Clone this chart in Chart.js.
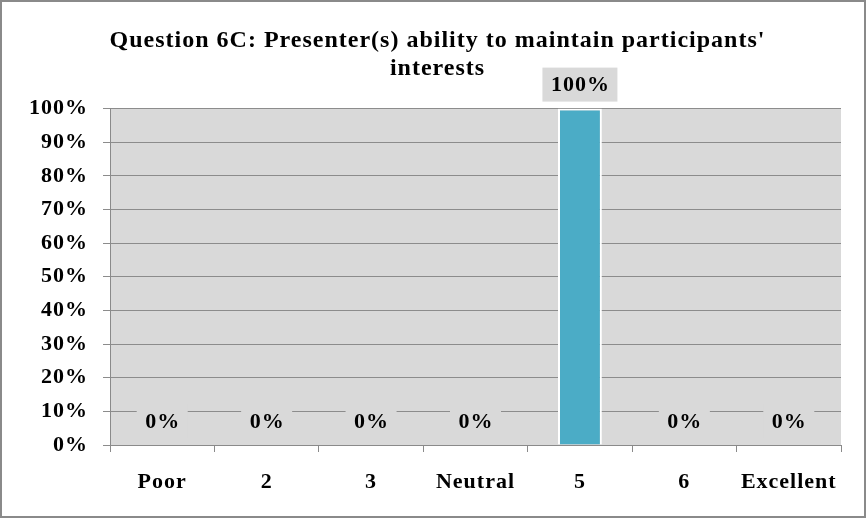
<!DOCTYPE html>
<html>
<head>
<meta charset="utf-8">
<script src="https://cdn.jsdelivr.net/npm/chart.js@4/dist/chart.umd.min.js"></script>
<style>
  html, body { margin: 0; padding: 0; background: #fff; }
  #wrap { position: relative; width: 866px; height: 518px; box-sizing: border-box; border: 2px solid #8a8a8a; }
  canvas { display: block; }
</style>
</head>
<body>
<div id="wrap"><canvas id="rating-chart" width="862" height="514"></canvas></div>
<script>
// Question 6C ratings
const ratingLabels = ["Poor", "2", "3", "Neutral", "5", "6", "Excellent"];
const ratingValues = [0, 0, 0, 0, 1, 0, 0];
const percentTicks = [0, 0.1, 0.2, 0.3, 0.4, 0.5, 0.6, 0.7, 0.8, 0.9, 1];

const serif = "'Liberation Serif', 'Times New Roman', serif";
const plotGray = "#d9d9d9";

// gray plot background (+ slightly wider lettering like the original)
const plotBackground = {
  id: "plotBackground",
  afterLayout(chart) {
    // title sits a bit right of the plot centre in the original
    if (chart.titleBlock) {
      chart.titleBlock.left += 16;
      chart.titleBlock.right += 16;
    }
  },
  beforeDraw(chart) {
    const { ctx, chartArea } = chart;
    ctx.letterSpacing = "1px";
    ctx.save();
    ctx.fillStyle = plotGray;
    ctx.fillRect(chartArea.left, chartArea.top, chartArea.right - chartArea.left, chartArea.bottom - chartArea.top);
    ctx.restore();
  },
};

// value labels with gray boxes
const valueLabels = {
  id: "valueLabels",
  afterDatasetsDraw(chart) {
    const { ctx } = chart;
    const meta = chart.getDatasetMeta(0);
    ctx.save();
    ctx.letterSpacing = "1px";
    ctx.font = "bold 22px " + serif;
    ctx.textAlign = "center";
    ctx.textBaseline = "middle";
    meta.data.forEach((bar, i) => {
      const text = Math.round(ratingValues[i] * 100) + "%";
      const w = ctx.measureText(text).width + 16;
      const h = 34;
      const cy = bar.y - 24;
      ctx.fillStyle = plotGray;
      ctx.fillRect(bar.x - w / 2, cy - h / 2, w, h);
      ctx.fillStyle = "#000";
      ctx.fillText(text, bar.x + 0.5, cy + 1);
    });
    ctx.restore();
  },
};

const ratingData = {
  labels: ratingLabels,
  datasets: [
    {
      data: ratingValues,
      backgroundColor: "#4bacc6",
      borderColor: "#ffffff",
      borderWidth: 2,
      barPercentage: 0.42,
      categoryPercentage: 1,
    },
  ],
};

const ratingConfig = {
  type: "bar",
  data: ratingData,
  plugins: [plotBackground, valueLabels],
  options: {
    responsive: false,
    animation: false,
    layout: { padding: { left: 0, right: 23, top: 0, bottom: 0 } },
    plugins: {
      legend: { display: false },
      tooltip: { enabled: false },
      title: {
        display: true,
        text: ["Question 6C: Presenter(s) ability to maintain participants'", "interests"],
        color: "#000",
        font: { family: serif, size: 24, weight: "bold", lineHeight: 1.2 },
        padding: { top: 24, bottom: 25 },
      },
    },
    scales: {
      x: {
        grid: {
          offset: true,
          drawOnChartArea: false,
          drawTicks: true,
          tickLength: 7,
          color: "#8a8a8a",
        },
        border: { color: "#8a8a8a", width: 1 },
        ticks: {
          color: "#000",
          font: { family: serif, size: 22, weight: "bold" },
          padding: 17,
        },
        afterFit(scale) {
          scale.height = 71;
        },
      },
      y: {
        min: 0,
        max: 1,
        afterBuildTicks(scale) {
          scale.ticks = percentTicks.map((v) => ({ value: v }));
        },
        grid: {
          color: "#8c8c8c",
          tickLength: 7,
        },
        border: { color: "#8a8a8a" },
        ticks: {
          color: "#000",
          font: { family: serif, size: 22, weight: "bold" },
          padding: 15,
          callback: (v) => Math.round(v * 100) + "%",
        },
        afterFit(scale) {
          scale.width = 108;
        },
      },
    },
  },
};

const ratingChart = new Chart(document.getElementById("rating-chart"), ratingConfig);
</script>
</body>
</html>
